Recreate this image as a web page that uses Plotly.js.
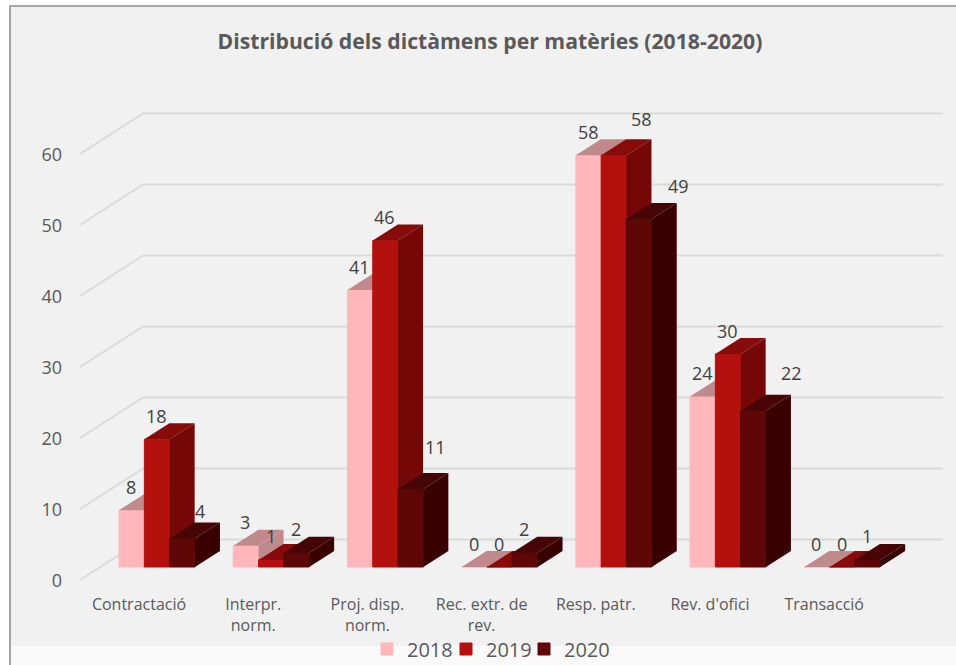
<!DOCTYPE html>
<html>
<head>
<meta charset="utf-8">
<script src="https://cdn.plot.ly/plotly-3.0.1.min.js"></script>
<style>html,body{margin:0;padding:0;background:#fff;overflow:hidden}#chart{width:956px;height:665px}</style>
</head>
<body>
<div id="chart"></div>
<script>
// ---- data ----
const categories = ["Contractació", "Interpr.<br>norm.", "Proj. disp.<br>norm.", "Rec. extr. de<br>rev.", "Resp. patr.", "Rev. d'ofici", "Transacció"];
const years = ["2018", "2019", "2020"];
const values2018 = [8, 3, 39, 0, 58, 24, 0];   // bar height as drawn
const values2019 = [18, 1, 46, 0, 58, 30, 0];
const values2020 = [4, 2, 11, 2, 49, 22, 1];
const labels2018 = [8, 3, 41, 0, 58, 24, 0];   // printed label
const labels2019 = [18, 1, 46, 0, 58, 30, 0];
const labels2020 = [4, 2, 11, 2, 49, 22, 1];
const yTicks = [0, 10, 20, 30, 40, 50, 60];

// ---- style ----
const frontColors = ["#FFB7BB", "#B4100E", "#5F0606"];
const topColors = ["#C08A8C", "#860B09", "#470404"];
const sideColors = ["#BE8A8C", "#750806", "#390000"];
const FONT = "'Open Sans', sans-serif";
const textColor = "#595959";

// ---- scale of the oblique view, in axis units ----
const PXX = 114.2, PXY = 7.1;            // pixels per category / per value
const barW = 25.3 / PXX;
const depthX = 25 / PXX, depthY = 16 / PXY;
const xRange = [(70 - 157) / PXX, (945 - 157) / PXX];
const yRange = [(567 - 582) / PXY, (567 - 100) / PXY];
const wallLeft = (143 - 157) / PXX, wallRight = (943 - 157) / PXX, gridFront = (80 - 157) / PXX;
const wallLift = 27.5 / PXY, frontDrop = 13 / PXY, tickDrop = 13.5 / PXY;
const catLabelShift = -18 / PXX;
const legendLeftPx = [367, 446, 524];

const allValues = [values2018, values2019, values2020];
const allLabels = [labels2018, labels2019, labels2020];

// per-label nudges [series, category, dx px, dy px]
const labelNudges = [
  [2, 0, 18, -4], [1, 4, 28, -13], [2, 2, 25, -18], [2, 4, 40, -10], [2, 5, 39, -14]
];

const traces = [];

// back wall and side wall grid, on the base axes
const gx = [], gy = [];
yTicks.forEach(t => {
  gx.push(gridFront, wallLeft, wallRight, null);
  gy.push(t - frontDrop, t + wallLift, t + wallLift, null);
});
traces.push({x: gx, y: gy, mode: "lines", line: {color: "#DADADA", width: 2}, showlegend: false, hoverinfo: "skip", xaxis: "x", yaxis: "y"});

// each series lives on its own overlay axes so that later series cover earlier ones
years.forEach((yr, s) => {
  const xa = "x" + (s + 2), ya = "y" + (s + 2);
  const vals = allValues[s];
  const off = -1.5 * barW + s * barW;
  traces.push({
    type: "bar", name: yr, x: categories.map((_, i) => i), y: vals,
    width: barW, offset: off, marker: {color: frontColors[s], line: {width: 1, color: frontColors[s]}},
    xaxis: xa, yaxis: ya, hoverinfo: "y", legend: s === 0 ? "legend" : "legend" + (s + 1)
  });
  const sx = [], sy = [], tx = [], ty = [];
  vals.forEach((v, i) => {
    const L = i + off, R = L + barW;
    sx.push(R, R + depthX, R + depthX, R, R, null);
    sy.push(0, depthY, v + depthY, v, 0, null);
    tx.push(L, L + depthX, R + depthX, R, L, null);
    ty.push(v, v + depthY, v + depthY, v, v, null);
  });
  traces.push({x: sx, y: sy, mode: "lines", fill: "toself", fillcolor: sideColors[s], line: {width: 0}, showlegend: false, hoverinfo: "skip", xaxis: xa, yaxis: ya});
  traces.push({x: tx, y: ty, mode: "lines", fill: "toself", fillcolor: topColors[s], line: {width: 0}, showlegend: false, hoverinfo: "skip", xaxis: xa, yaxis: ya});
});

// data labels
const annotations = [];
years.forEach((yr, s) => {
  allValues[s].forEach((v, i) => {
    const n = labelNudges.find(k => k[0] === s && k[1] === i) || [s, i, 0, 0];
    annotations.push({
      x: i - barW + s * barW, y: v, xref: "x", yref: "y", text: String(allLabels[s][i]),
      showarrow: false, xanchor: "center", yanchor: "middle",
      xshift: n[2] - 0.5, yshift: 23.5 - n[3],
      font: {family: FONT, size: 18, color: "#404040"}
    });
  });
});

const hidden = (over, anchor) => ({overlaying: over, anchor: anchor, visible: false, fixedrange: true});
const legendAt = px => ({orientation: "h", x: px / 956, xref: "container", xanchor: "left", yref: "container", y: 1 - 649 / 665, yanchor: "middle", font: {family: FONT, size: 20, color: textColor}, bgcolor: "rgba(0,0,0,0)", itemclick: false, itemdoubleclick: false});
const layout = {
  width: 956, height: 665,
  margin: {l: 70, r: 11, t: 100, b: 83, pad: 0},
  paper_bgcolor: "#FFFFFF", plot_bgcolor: "rgba(0,0,0,0)",
  title: {text: "<b>Distribució dels dictàmens per matèries (2018-2020)</b>", xref: "container", yref: "container", x: 490 / 956, y: 1 - 42 / 665, xanchor: "center", yanchor: "middle", font: {family: FONT, size: 21.2, color: textColor}},
  showlegend: true,
  legend: legendAt(legendLeftPx[0]),
  legend2: legendAt(legendLeftPx[1]),
  legend3: legendAt(legendLeftPx[2]),
  xaxis: {range: xRange, tickmode: "array", tickvals: categories.map((_, i) => i + catLabelShift), ticktext: categories, showgrid: false, zeroline: false, showline: false, ticks: "", ticklabelstandoff: 11, tickangle: 0, tickfont: {family: FONT, size: 16, color: textColor}, fixedrange: true},
  yaxis: {range: yRange, tickmode: "array", tickvals: yTicks.map(t => t - tickDrop), ticktext: yTicks.map(String), showgrid: false, zeroline: false, showline: false, ticks: "", ticklabelstandoff: 7, tickfont: {family: FONT, size: 18, color: textColor}, fixedrange: true},
  annotations: annotations,
  shapes: [
    {type: "rect", layer: "below", xref: "paper", yref: "paper", x0: (10 - 70) / 875, x1: (957 - 70) / 875, y0: (582 - 670) / 482, y1: (582 - 6) / 482, fillcolor: "#F1F1F1", line: {color: "#A6A6A6", width: 2}},
    {type: "rect", layer: "below", xref: "paper", yref: "paper", x0: (11 - 70) / 875, x1: (957 - 70) / 875, y0: (582 - 666) / 482, y1: (582 - 646) / 482, fillcolor: "#FAFAFA", line: {width: 0}}
  ]
};
[2, 3, 4].forEach(k => {
  layout["xaxis" + k] = Object.assign(hidden("x", "y" + k), {range: xRange});
  layout["yaxis" + k] = Object.assign(hidden("y", "x" + k), {range: yRange});
});

Plotly.newPlot("chart", traces, layout, {displayModeBar: false, staticPlot: true});
</script>
</body>
</html>
